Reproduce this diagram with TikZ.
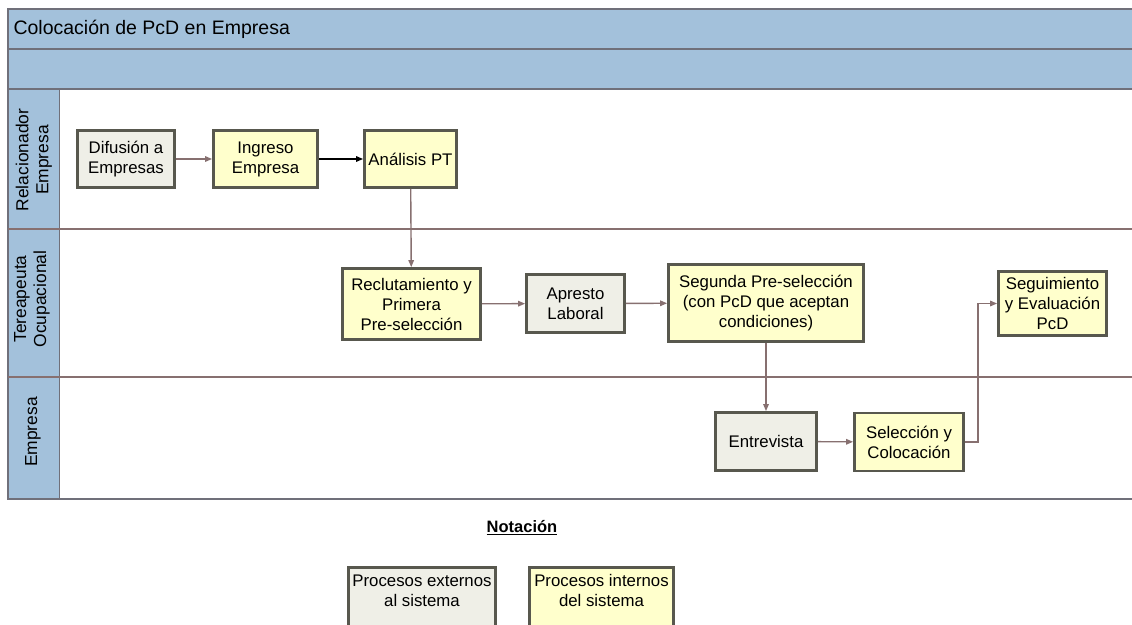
\documentclass[tikz,border=0pt]{standalone}
\usepackage{fontspec}
\setmainfont{Liberation Sans}
\usetikzlibrary{arrows.meta,positioning}
\definecolor{laneblue}{RGB}{163,193,219}
\definecolor{boxyellow}{RGB}{255,255,204}
\definecolor{boxgray}{RGB}{239,239,231}
\definecolor{boxedge}{RGB}{88,88,78}
\definecolor{flowline}{RGB}{135,112,112}
\definecolor{frameline}{RGB}{112,112,122}

\tikzset{
  proc/.style={draw=boxedge, line width=2.8pt, align=center, inner sep=2pt,
    font=\fontsize{16.8}{20}\selectfont},
  intproc/.style={proc, fill=boxyellow},
  extproc/.style={proc, fill=boxgray},
  flow/.style={draw=flowline, line width=1.4pt, -{Triangle[length=7pt,width=5.5pt]}},
  lanelabel/.style={rotate=90, align=center, font=\fontsize{17.4}{20}\selectfont},
  laneline/.style={draw=flowline, line width=1.4pt},
}

\begin{document}
\begin{tikzpicture}[x=1pt,y=-1pt]
  \clip (0,0) rectangle (1132,624);
  \fill[white] (0,0) rectangle (1132,624);

  %% ---- pool frame ----
  \fill[laneblue] (8,9) rectangle (1140,89);
  \fill[laneblue] (8,89) rectangle (59,499);
  \draw[frameline, line width=1.6pt] (1140,9) -- (8,9) -- (8,499) -- (1140,499);
  \draw[frameline, line width=1.6pt] (8,49) -- (1140,49);
  \draw[frameline, line width=1.6pt] (8,89) -- (1140,89);
  \draw[frameline, line width=0.8pt] (59,89) -- (59,499);
  \draw[laneline] (8,229) -- (1140,229);
  \draw[laneline] (8,377) -- (1140,377);
  \node[anchor=west, font=\fontsize{19.5}{22}\selectfont] (title) at (10,29) {Colocación de PcD en Empresa};

  %% lane labels
  \node[lanelabel] (lane1) at (34,160) {Relacionador\\Empresa};
  \node[lanelabel] (lane2) at (32,299) {Tereapeuta\\Ocupacional};
  \node[lanelabel] (lane3) at (33,432) {Empresa};

  %% ---- processes ----
  \node[extproc, minimum width=97pt, minimum height=57pt] (difu) at (126,159) {Difusión a\\Empresas};
  \node[intproc, minimum width=104pt, minimum height=57pt] (ingr) at (265.5,159) {Ingreso\\Empresa};
  \node[intproc, minimum width=92pt, minimum height=57pt] (anal) at (410.5,159) {Análisis PT};
  \node[intproc, minimum width=138pt, minimum height=71pt] (recl) at (411.5,304) {Reclutamiento y\\Primera\\Pre-selección};
  \node[extproc, minimum width=98pt, minimum height=58pt] (apre) at (575.5,303.5) {Apresto\\Laboral};
  \node[intproc, minimum width=195pt, minimum height=77pt] (segu) at (766,303) {Segunda Pre-selección\\(con PcD que aceptan\\condiciones)};
  \node[intproc, minimum width=108pt, minimum height=64pt] (segm) at (1052.5,303.5) {Seguimiento\\y Evaluación\\PcD};
  \node[extproc, minimum width=101pt, minimum height=58pt] (entr) at (766,441.5) {Entrevista};
  \node[intproc, minimum width=109pt, minimum height=58pt] (selc) at (909,442) {Selección y\\Colocación};

  %% ---- flows ----
  \draw[flow] (difu) -- (ingr);
  \draw[flow, draw=black] (ingr) -- (anal);
  \draw[flow] (anal) -- (recl);
  \draw[flow] (recl) -- (apre);
  \draw[flow] (apre) -- (segu);
  \draw[flow] (segu) -- (entr);
  \draw[flow] (entr) -- (selc);
  \draw[flow] (selc.east) -- ++(13,0) |- (segm.west);

  %% ---- notation ----
  \node[font=\bfseries\fontsize{16.5}{20}\selectfont] (nota) at (522,528) {\underline{Notación}};
  \node[extproc, minimum width=147pt, minimum height=80pt, anchor=north] (legext) at (422,566) {};
  \node[intproc, minimum width=144pt, minimum height=80pt, anchor=north] (legint) at (601.5,566) {};
  \node[align=center, anchor=north, font=\fontsize{16.8}{20}\selectfont] (legexttext) at ([yshift=-5pt]legext.north) {Procesos externos\\al sistema};
  \node[align=center, anchor=north, font=\fontsize{16.8}{20}\selectfont] (leginttext) at ([yshift=-5pt]legint.north) {Procesos internos\\del sistema};
\end{tikzpicture}
\end{document}
